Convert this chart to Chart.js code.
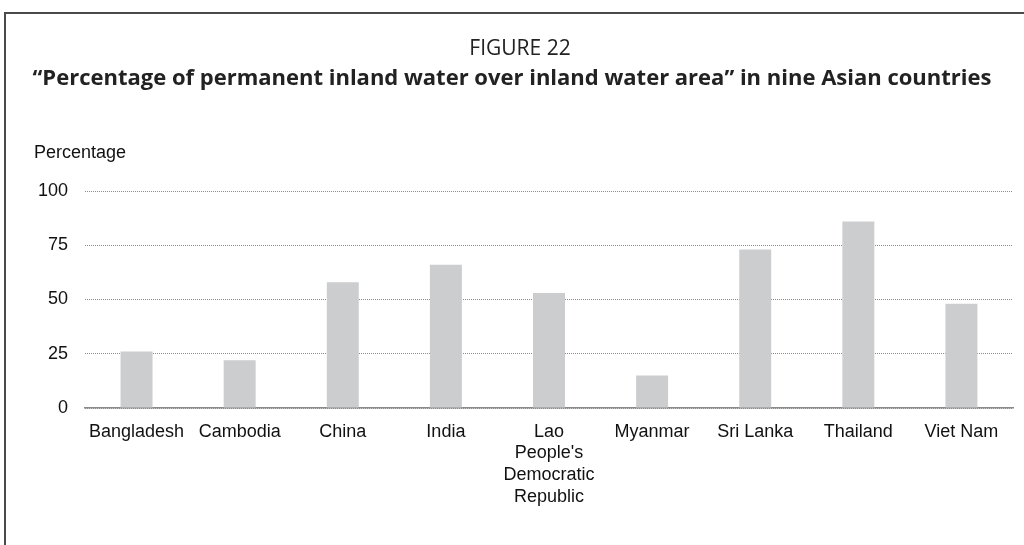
<!DOCTYPE html>
<html>
<head>
<meta charset="utf-8">
<title>Figure 22</title>
<script src="https://cdn.jsdelivr.net/npm/chart.js@4/dist/chart.umd.min.js"></script>
<style>
  html, body { margin: 0; padding: 0; background: #fff; }
  #wrap { position: relative; width: 1024px; height: 545px; overflow: hidden; }
  #frame {
    position: absolute; left: 4px; top: 12px; right: -2px; bottom: -2px;
    border-top: 2px solid #4a4a4a; border-left: 2px solid #4a4a4a;
  }
  canvas { position: absolute; left: 0; top: 0; }
</style>
</head>
<body>
<div id="wrap">
  <div id="frame"></div>
  <canvas id="chart" width="1024" height="545"></canvas>
</div>
<script>
// countries and their share of permanent water
const countries = ['Bangladesh', 'Cambodia', 'China', 'India',
  ['Lao', "People's", 'Democratic', 'Republic'],
  'Myanmar', 'Sri Lanka', 'Thailand', 'Viet Nam'];
const permanentShare = [26, 22, 58, 66, 53, 15, 73, 86, 48];
const yTicks = [0, 25, 50, 75, 100];

const figureLabel = 'FIGURE 22';
const figureTitle = '\u201cPercentage of permanent inland water over inland water area\u201d in nine Asian countries';

const axisFont = { family: '"Liberation Sans", Arial, sans-serif', size: 18 };

// figure heading plus the flat "Percentage" caption above the y axis
const headings = {
  id: 'headings',
  afterDraw(chart) {
    const ctx = chart.ctx;
    ctx.save();
    ctx.fillStyle = '#222';
    ctx.textAlign = 'center';
    ctx.textBaseline = 'alphabetic';
    ctx.font = '21px "Open Sans", sans-serif';
    ctx.fillText(figureLabel, 520, 55);
    ctx.font = 'bold 22px "Open Sans", sans-serif';
    ctx.fillText(figureTitle, 512, 85);

    ctx.fillStyle = '#111';
    ctx.textAlign = 'left';
    ctx.textBaseline = 'middle';
    ctx.font = '18px "Liberation Sans", Arial, sans-serif';
    ctx.fillText('Percentage', 34, chart.chartArea.top - 38);
    ctx.restore();
  }
};

new Chart(document.getElementById('chart'), {
  type: 'bar',
  data: {
    labels: countries,
    datasets: [{
      data: permanentShare,
      backgroundColor: '#cccdcf',
      borderWidth: 0,
      barPercentage: 0.31,
      categoryPercentage: 1
    }]
  },
  options: {
    responsive: false,
    animation: false,
    layout: { padding: { left: 0, right: 11, top: 191, bottom: 0 } },
    plugins: {
      legend: { display: false },
      tooltip: { enabled: false },
      title: { display: false }
    },
    scales: {
      x: {
        grid: { display: false, drawTicks: false },
        border: { display: true, color: '#8a8a8a', width: 1.5 },
        ticks: { color: '#111', font: axisFont, padding: 13, maxRotation: 0, autoSkip: false },
        afterFit(scale) { scale.height = 137; }
      },
      y: {
        min: 0,
        max: 100,
        afterBuildTicks(scale) { scale.ticks = yTicks.map(v => ({ value: v })); },
        grid: { color: '#8c8c8c', lineWidth: 1, drawTicks: false },
        // dotted grid lines
        border: { display: false, dash: [1, 1] },
        ticks: { color: '#111', font: axisFont, padding: 17 },
        afterFit(scale) { scale.width = 85; }
      }
    }
  },
  plugins: [headings]
});
</script>
</body>
</html>
